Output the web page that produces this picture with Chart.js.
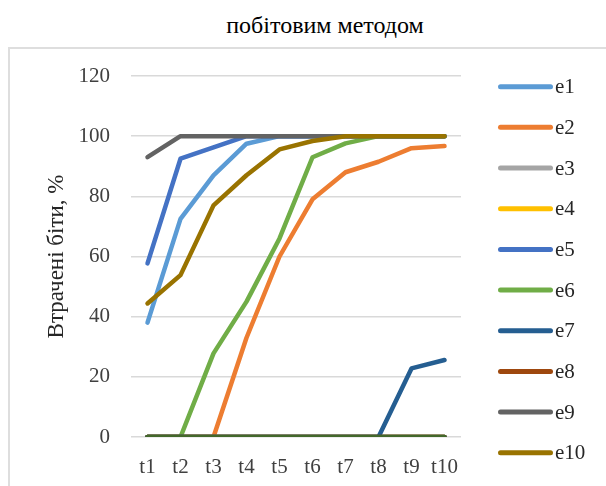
<!DOCTYPE html>
<html>
<head>
<meta charset="utf-8">
<script src="https://cdn.jsdelivr.net/npm/chart.js@4/dist/chart.umd.min.js"></script>
<style>
  html, body { margin: 0; padding: 0; background: #fff; }
  body { width: 606px; height: 486px; position: relative; overflow: hidden; }
  #heading {
    position: absolute; left: 0; top: 10px; width: 650px;
    text-align: center; font-family: "Liberation Serif", "DejaVu Serif", "Times New Roman", serif;
    font-size: 24px; line-height: 30px; color: #000;
  }
  #frame {
    position: absolute; left: 8px; top: 47px; width: 640px; height: 480px;
    border: 2px solid #dedede; box-sizing: border-box;
  }
  #chart { position: absolute; left: 9px; top: 48px; }
</style>
</head>
<body>
<div id="heading">побітовим методом</div>
<div id="frame"></div>
<canvas id="chart" width="597" height="440"></canvas>
<script>
// Time steps along the x axis
const categories = ['t1', 't2', 't3', 't4', 't5', 't6', 't7', 't8', 't9', 't10'];

// Share of lost bits, % (one array per series)
const e1  = [38, 72.5, 87, 97.5, 100, 100, 100, 100, 100, 100];
const e2  = [0, 0, 0, 33, 60, 79, 88, 91.5, 96, 96.7];
const e3  = [0, 0, 0, 0, 0, 0, 0, 0, 0, 0];
const e4  = [0, 0, 0, 0, 0, 0, 0, 0, 0, 0];
const e5  = [57.7, 92.5, 96.3, 100, 100, 100, 100, 100, 100, 100];
const e6  = [0, 0, 27.8, 45, 66, 93, 97.6, 100, 100, 100];
const e7  = [0, 0, 0, 0, 0, 0, 0, 0, 22.8, 25.6];
const e8  = [0, 0, 0, 0, 0, 0, 0, 0, 0, 0];
const e9  = [93, 100, 100, 100, 100, 100, 100, 100, 100, 100];
const e10 = [44.4, 53.8, 77, 87, 95.6, 98.4, 100, 100, 100, 100];
const e11 = [0, 0, 0, 0, 0, 0, 0, 0, 0, 0];
const e12 = [0, 0, 0, 0, 0, 0, 0, 0, 0, 0];

const seriesNames = ['e1', 'e2', 'e3', 'e4', 'e5', 'e6', 'e7', 'e8', 'e9', 'e10', 'e11', 'e12'];
const seriesValues = [e1, e2, e3, e4, e5, e6, e7, e8, e9, e10, e11, e12];
const seriesColors = ['#5B9BD5', '#ED7D31', '#A5A5A5', '#FFC000', '#4472C4', '#70AD47',
                      '#255E91', '#9E480E', '#636363', '#997300', '#264478', '#43682B'];

const yTicks = [0, 20, 40, 60, 80, 100, 120];

const SERIF = '"Liberation Serif", "DejaVu Serif", "Times New Roman", serif';

// Key on the right: a short stroke in the series colour followed by its name
const KEY = { x0: 491.5, x1: 541.5, textX: 546, top: 38.7, step: 40.67 };
const seriesKey = {
  id: 'seriesKey',
  afterDraw(chart) {
    const ctx = chart.ctx;
    ctx.save();
    chart.data.datasets.forEach((ds, i) => {
      const y = KEY.top + i * KEY.step;
      ctx.beginPath();
      ctx.strokeStyle = ds.borderColor;
      ctx.lineWidth = 5;
      ctx.lineCap = 'round';
      ctx.moveTo(KEY.x0, y);
      ctx.lineTo(KEY.x1, y);
      ctx.stroke();
      ctx.fillStyle = '#262626';
      ctx.font = '21px ' + SERIF;
      ctx.textBaseline = 'middle';
      ctx.textAlign = 'left';
      ctx.fillText(ds.label, KEY.textX, y + 1);
    });
    ctx.restore();
  }
};

const datasets = seriesNames.map((name, i) => ({
  label: name,
  data: seriesValues[i],
  borderColor: seriesColors[i],
  backgroundColor: seriesColors[i],
  borderWidth: 4.5,
  borderCapStyle: 'round',
  borderJoinStyle: 'round',
  pointRadius: 0,
  pointHoverRadius: 0,
  tension: 0,
  fill: false,
  order: -i
}));

new Chart(document.getElementById('chart'), {
  type: 'line',
  data: { labels: categories, datasets },
  plugins: [seriesKey],
  options: {
    responsive: false,
    animation: false,
    devicePixelRatio: 1,
    font: { family: SERIF },
    layout: { padding: { left: 0, top: 28, right: 145, bottom: 0 } },
    plugins: {
      legend: { display: false },
      tooltip: { enabled: false },
      title: { display: false }
    },
    scales: {
      x: {
        offset: true,
        grid: { display: false, drawTicks: false },
        border: { display: false },
        ticks: {
          color: '#404040',
          font: { family: SERIF, size: 21 },
          padding: 18,
          maxRotation: 0,
          autoSkip: false
        },
        afterFit(scale) { scale.height = 51; }
      },
      y: {
        min: 0,
        max: 120,
        afterBuildTicks(scale) { scale.ticks = yTicks.map(v => ({ value: v })); },
        grid: {
          color: '#d9d9d9',
          lineWidth: 1.5,
          drawTicks: true,
          tickLength: 13,
          tickColor: 'rgba(0,0,0,0)'
        },
        border: { display: false },
        ticks: {
          color: '#404040',
          font: { family: SERIF, size: 21 },
          padding: 8
        },
        title: {
          display: true,
          text: 'Втрачені біти, %',
          color: '#262626',
          font: { family: SERIF, size: 23 },
          padding: { top: 34, bottom: 0 }
        },
        afterFit(scale) { scale.width = 122; }
      }
    }
  }
});
</script>
</body>
</html>
